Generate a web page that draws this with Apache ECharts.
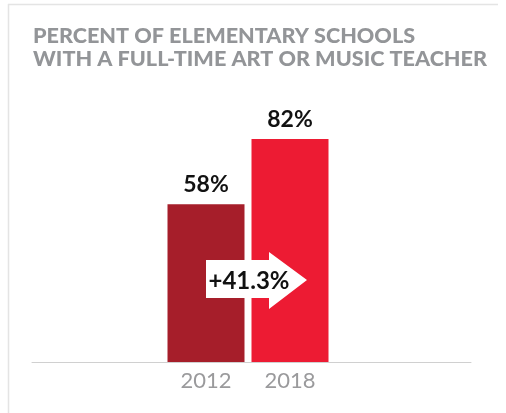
<!DOCTYPE html>
<html><head><meta charset="utf-8">
<script src="https://cdn.jsdelivr.net/npm/echarts@6/dist/echarts.min.js"></script>
<style>html,body{margin:0;padding:0;background:#fff}#c{width:506px;height:413px}</style>
</head><body><div id="c"></div>
<script>
const titleLines = ['PERCENT OF ELEMENTARY SCHOOLS', 'WITH A FULL-TIME ART OR MUSIC TEACHER'];
const years = ['2012', '2018'];
const percents = [58, 82];
const barColors = ['#a61e2a', '#ed1b33'];
const changeLabel = '+41.3%';

const chart = echarts.init(document.getElementById('c'), null, {renderer: 'canvas'});
const FONT = 'Lato';
chart.setOption({
  animation: false,
  backgroundColor: '#fff',
  title: {
    text: titleLines.join('\n'), left: 28, top: 20,
    textStyle: {fontFamily: FONT, fontWeight: 900, fontSize: 21.6, color: '#939598', lineHeight: 23}
  },
  grid: [
    {left: 164, right: 174, top: 90, bottom: 51},
    {left: 32, right: 35, top: 90, bottom: 51}
  ],
  xAxis: [
    {type: 'category', gridIndex: 0, data: years,
      axisLine: {show: false}, axisTick: {show: false},
      axisLabel: {color: '#9a9a9c', fontFamily: FONT, fontSize: 22, margin: 8}},
    {type: 'category', gridIndex: 1, data: years, show: true,
      axisLine: {show: true, lineStyle: {color: '#d0d0d0', width: 1}}, axisTick: {show: false},
      axisLabel: {show: false}}
  ],
  yAxis: [
    {type: 'value', gridIndex: 0, min: 0, max: 100, show: false},
    {type: 'value', gridIndex: 1, min: 0, max: 100, show: false}
  ],
  series: [{
    type: 'bar', xAxisIndex: 0, yAxisIndex: 0, barWidth: 77,
    data: percents.map((v, i) => ({value: v, itemStyle: {color: barColors[i]}})),
    label: {show: true, position: 'top', distance: 8, formatter: '{c}%',
      fontFamily: FONT, fontWeight: 'bold', fontSize: 23, color: '#111'}
  }],
  graphic: [
    {type: 'line', shape: {x1: 8.5, y1: 4, x2: 8.5, y2: 413},
      style: {stroke: '#e4e4e4', lineWidth: 1.5}, silent: true},
    {type: 'line', shape: {x1: 8, y1: 4.5, x2: 498, y2: 4.5},
      style: {stroke: '#e4e4e4', lineWidth: 1.5}, silent: true},
    {type: 'polygon', shape: {points: [[206, 260], [269, 260], [269, 252], [307, 280], [269, 309], [269, 298], [206, 298]]},
      style: {fill: '#ffffff'}, silent: true, z: 100},
    {type: 'text', x: 249, y: 281, z: 101,
      style: {text: changeLabel, fontFamily: FONT, fontWeight: 'bold', fontSize: 24, fill: '#111',
        textAlign: 'center', textVerticalAlign: 'middle'}}
  ]
});
</script></body></html>
